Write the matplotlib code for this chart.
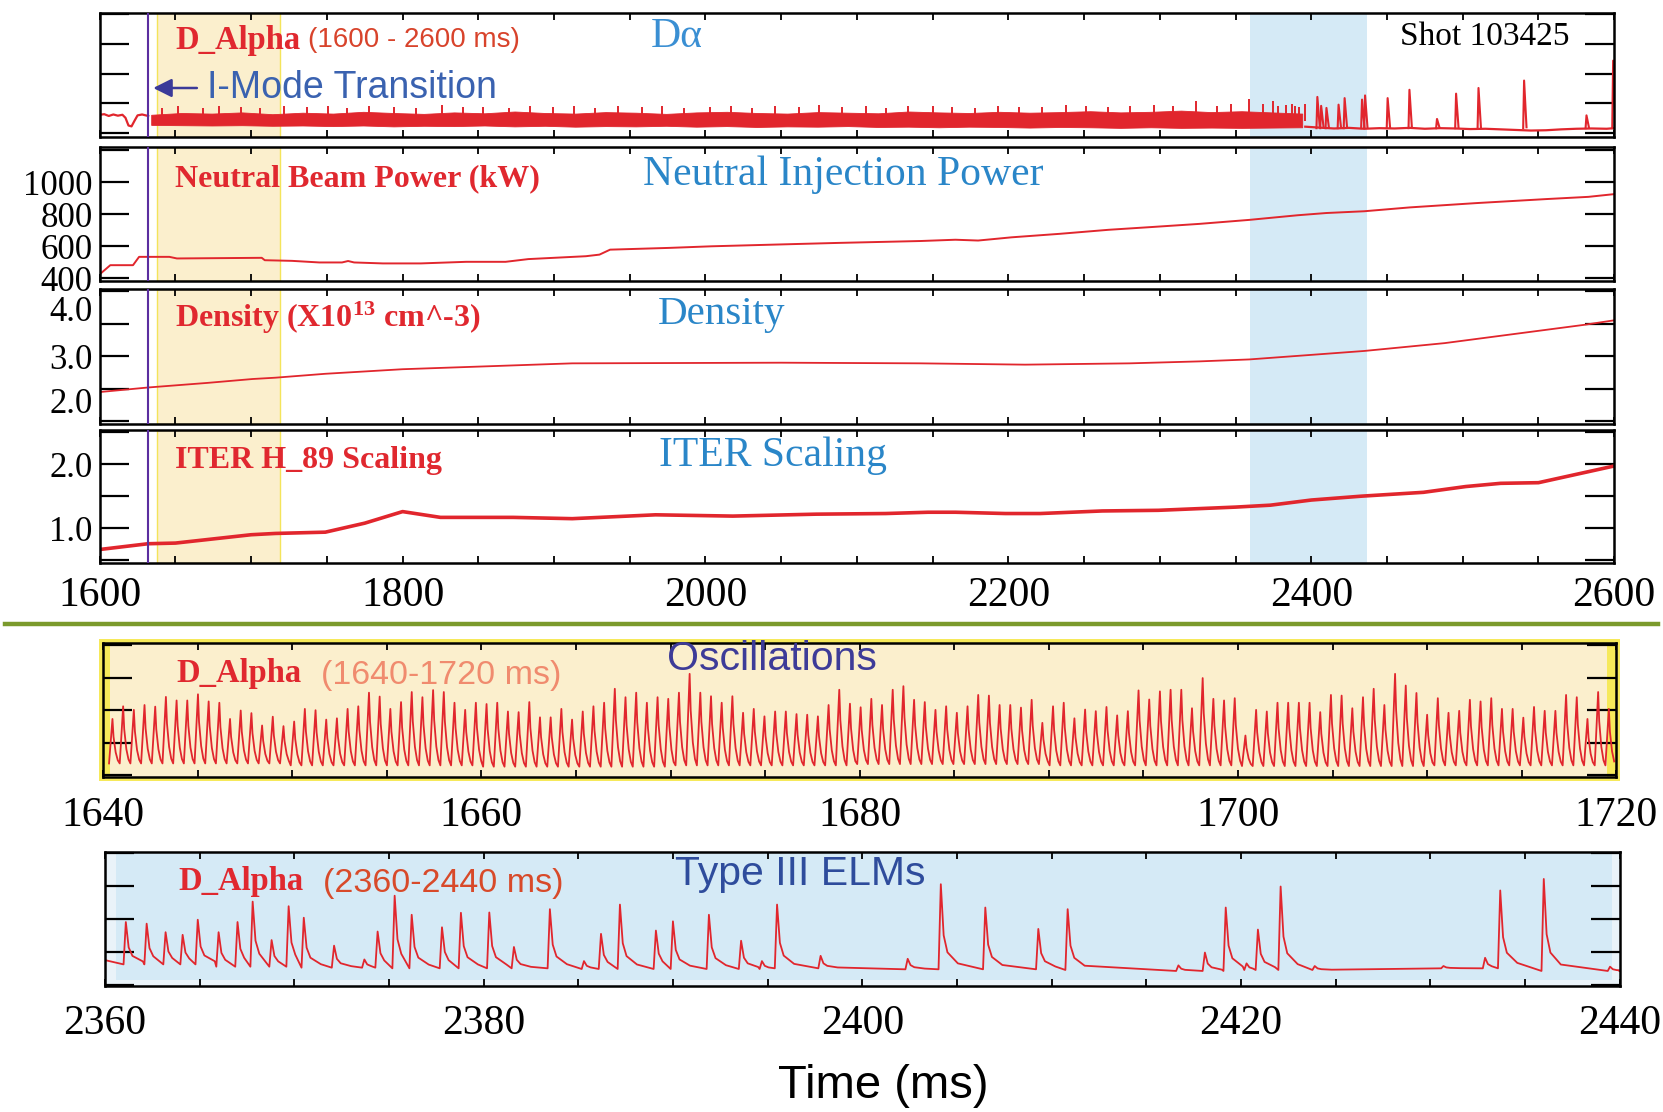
import matplotlib
matplotlib.use("Agg")
import matplotlib.pyplot as plt
import matplotlib.transforms as mtransforms
import numpy as np
from matplotlib.lines import Line2D
from matplotlib.patches import Rectangle
from matplotlib.ticker import MultipleLocator

SERIF = "Liberation Serif"
SANS = "Liberation Sans"
plt.rcParams["font.family"] = SERIF
plt.rcParams["mathtext.fontset"] = "custom"
plt.rcParams["mathtext.rm"] = SERIF
plt.rcParams["mathtext.bf"] = SERIF + ":bold"
plt.rcParams["mathtext.it"] = SERIF + ":italic"

# ── Data ──────────────────────────────────────────────────────────────────────

TRANSITION_MS = 1632
OSC_SPAN = (1638, 1719)
ELM_SPAN = (2359.5, 2436.5)

# D-alpha overview, before the I-mode transition
da_pre_t = [1600, 1603, 1606, 1609, 1612, 1615, 1617, 1619, 1621, 1623, 1625, 1628, 1632]
da_pre_v = [0.62, 0.64, 0.58, 0.63, 0.59, 0.62, 0.52, 0.26, 0.23, 0.42, 0.60, 0.63, 0.58]

# dense fluctuation band during I-mode (every 20 ms)
da_band_t = list(range(1634, 2395, 20))
da_band_top = [0.62, 0.68, 0.66, 0.70, 0.64, 0.69, 0.66, 0.72, 0.68, 0.65,
               0.70, 0.67, 0.73, 0.68, 0.66, 0.71, 0.69, 0.65, 0.70, 0.72,
               0.68, 0.66, 0.71, 0.69, 0.67, 0.73, 0.70, 0.68, 0.72, 0.69,
               0.71, 0.74, 0.70, 0.72, 0.76, 0.71, 0.74, 0.70, 0.66]
da_band_bot = [0.28, 0.27, 0.26, 0.27, 0.25, 0.26, 0.24, 0.26, 0.23, 0.25,
               0.24, 0.26, 0.23, 0.25, 0.22, 0.24, 0.23, 0.25, 0.22, 0.24,
               0.21, 0.23, 0.22, 0.24, 0.21, 0.22, 0.20, 0.22, 0.21, 0.19,
               0.21, 0.20, 0.18, 0.20, 0.18, 0.19, 0.18, 0.19, 0.20]
da_spike_t = [1641, 1652, 1668, 1679, 1693, 1706, 1722, 1737, 1751, 1763,
              1778, 1794, 1809, 1826, 1840, 1853, 1870, 1884, 1899, 1913,
              1927, 1942, 1958, 1971, 1986, 2003, 2017, 2031, 2046, 2062,
              2075, 2090, 2106, 2119, 2134, 2150, 2163, 2178, 2193, 2207,
              2222, 2238, 2251, 2266, 2280, 2296, 2309, 2324, 2338, 2347,
              2359, 2368, 2375, 2378, 2383, 2387, 2389, 2392, 2396]
da_spike_v = [0.86, 0.90, 0.84, 0.92, 0.88, 0.85, 0.93, 0.87, 0.90, 0.84,
              0.91, 0.88, 0.86, 0.94, 0.87, 0.89, 0.85, 0.92, 0.88, 0.90,
              0.86, 0.93, 0.87, 0.91, 0.85, 0.89, 0.92, 0.86, 0.90, 0.88,
              0.94, 0.87, 0.91, 0.85, 0.90, 0.93, 0.88, 0.86, 0.92, 0.89,
              0.87, 0.94, 0.90, 0.88, 0.92, 0.95, 0.90, 1.07, 0.93, 0.97,
              1.15, 0.99, 1.07, 0.90, 0.96, 0.97, 0.93, 0.88, 0.98]

# D-alpha after the band: quiet baseline with isolated ELMs
da_post_t = [2396, 2405, 2415, 2425, 2435, 2445, 2455, 2465, 2475, 2485, 2495,
             2505, 2515, 2525, 2535, 2545, 2555, 2565, 2575, 2585, 2595, 2600]
da_post_v = [0.22, 0.19, 0.16, 0.18, 0.15, 0.17, 0.16, 0.18, 0.15, 0.17, 0.16,
             0.14, 0.15, 0.13, 0.11, 0.09, 0.10, 0.13, 0.15, 0.16, 0.15, 0.17]
da_elm_t = [2404, 2406.5, 2410, 2418, 2422, 2433.5, 2435.5, 2450.4, 2464.8,
            2483, 2495.6, 2510.4, 2540.5, 2581.7, 2599.3]
da_elm_v = [1.22, 0.92, 0.85, 0.96, 1.18, 1.13, 1.27, 1.18, 1.46,
            0.48, 1.33, 1.52, 1.77, 0.60, 2.44]

# Neutral beam power (kW)
nb_t = [1600, 1607, 1622, 1626, 1646, 1651, 1707, 1709, 1727, 1745,
        1760, 1764, 1768, 1787, 1812, 1842, 1868, 1883, 1921, 1930,
        1937, 1976, 2004, 2059, 2087, 2142, 2165, 2180, 2190, 2202,
        2234, 2266, 2294, 2326, 2359, 2391, 2410, 2435, 2465, 2509,
        2555, 2583, 2600]
nb_kw = [425, 482, 482, 534, 534, 524, 528, 513, 509, 499,
         499, 508, 499, 493, 493, 503, 503, 520, 538, 548,
         579, 590, 600, 614, 621, 633, 641, 636, 645, 656,
         678, 703, 720, 740, 765, 794, 808, 819, 843, 870,
         895, 909, 926]

# Density (1e13 cm^-3)
ne_t = [1600, 1632, 1671, 1701, 1716, 1749, 1800, 1850, 1912, 2050, 2142,
        2211, 2280, 2326, 2359, 2400, 2435, 2488, 2534, 2580, 2600]
ne_v = [2.45, 2.52, 2.59, 2.65, 2.67, 2.73, 2.80, 2.84, 2.89, 2.90, 2.89,
        2.87, 2.89, 2.92, 2.95, 3.02, 3.08, 3.20, 3.34, 3.48, 3.55]

# ITER H_89 scaling
h89_t = [1600, 1632, 1650, 1700, 1716, 1749, 1775, 1800, 1825, 1873,
         1912, 1967, 2018, 2073, 2119, 2147, 2165, 2198, 2221, 2262,
         2299, 2350, 2373, 2400, 2433, 2474, 2502, 2525, 2550, 2600]
h89_v = [0.67, 0.76, 0.77, 0.90, 0.92, 0.94, 1.08, 1.26, 1.17, 1.17,
         1.15, 1.21, 1.19, 1.22, 1.23, 1.25, 1.25, 1.23, 1.23, 1.27,
         1.28, 1.33, 1.36, 1.44, 1.50, 1.56, 1.65, 1.70, 1.71, 1.97]

# Oscillations 1640-1720 ms: peak heights, one per cycle
osc_first, osc_last = 1640.5, 1719.6
osc_peaks = [1.73, 2.12, 2.01, 2.16, 2.11, 2.41, 2.30, 2.30, 2.49, 2.27,
             2.23, 1.73, 1.99, 1.91, 1.53, 1.80, 1.51, 1.65, 2.04, 2.00,
             1.71, 1.75, 2.04, 2.12, 2.54, 2.42, 2.04, 2.25, 2.56, 2.40,
             2.62, 2.56, 2.23, 2.01, 2.23, 2.19, 2.23, 1.96, 1.94, 2.25,
             1.78, 1.78, 2.04, 1.71, 1.96, 2.12, 2.23, 2.66, 2.40, 2.54,
             2.23, 2.40, 2.35, 2.54, 3.12, 2.54, 2.43, 2.23, 2.43, 1.92,
             2.04, 1.81, 1.96, 1.96, 1.88,
             1.86, 1.81, 2.16, 2.63, 2.20, 2.09, 2.35, 2.16, 2.63, 2.74,
             2.32, 2.25, 2.01, 2.12, 1.92, 2.12, 2.47, 2.45, 2.16, 2.16,
             2.08, 2.32, 1.61, 2.12, 2.23, 1.75, 2.02, 1.97, 2.10, 1.84,
             1.97, 2.61, 2.33, 2.58, 2.63, 2.63, 2.06, 2.99, 2.35, 2.30,
             2.37, 1.22, 2.01, 1.96, 2.23, 2.23, 2.23, 2.23, 1.94, 2.47,
             2.45, 2.06, 2.40, 2.66, 2.16, 3.12, 2.76, 2.53, 1.86, 2.37,
             1.92, 1.98, 2.32, 2.27, 2.37, 2.04, 2.04, 1.77, 2.10, 1.98,
             1.98, 2.47, 2.40, 1.73, 2.56, 2.04]
osc_trough = [0.36, 0.30, 0.26, 0.30, 0.34, 0.30, 0.28, 0.30]   # per 10 ms

# Type III ELMs 2360-2440 ms
elm_t = [2361.1, 2362.2, 2363.2, 2364.1, 2364.9, 2366.0, 2367.0, 2367.8, 2368.8, 2369.7,
         2370.5, 2372.1, 2373.7, 2374.4, 2375.3, 2376.2, 2377.8, 2378.8, 2380.3, 2381.6,
         2383.5, 2385.3, 2386.2, 2387.2, 2389.1, 2390.0, 2391.9, 2393.6, 2394.7, 2395.5,
         2397.8, 2402.4, 2404.15, 2406.5, 2409.3, 2410.85, 2416.7, 2418.1, 2419.2, 2420.3,
         2420.9, 2422.1, 2423.9, 2430.7, 2432.9, 2433.7, 2436.0, 2439.5]
elm_v = [1.91, 1.86, 1.60, 1.52, 1.98, 1.60, 1.91, 2.53, 1.36, 2.39,
         2.04, 1.19, 0.77, 1.62, 2.71, 2.13, 1.75, 2.19, 2.20, 1.15,
         2.30, 0.72, 1.55, 2.44, 1.65, 1.93, 2.13, 1.34, 0.72, 2.44,
         0.88, 0.79, 3.06, 2.35, 1.70, 2.30, 0.59, 0.98, 2.35, 0.65,
         1.68, 2.99, 0.57, 0.57, 0.82, 2.87, 3.22, 0.55]
elm_base = [0.62, 0.55, 0.52, 0.50, 0.50, 0.48, 0.48, 0.50,
            0.47, 0.47, 0.45, 0.42, 0.45, 0.52, 0.50, 0.42]     # per 5 ms

# ── Colours ───────────────────────────────────────────────────────────────────

RED = "#e1262d"
RED_TXT = "#e0282f"
BLUE_TXT = "#2a86c8"
PURPLE = "#5b2e9f"
YELLOW = "#fbefcd"
YELLOW_EDGE = "#f4e45a"
LIGHT_BLUE = "#d5eaf6"


# ── Helpers ───────────────────────────────────────────────────────────────────

def pulse_train(times, peaks, base, seg, t0, rise, tail):
    """Polyline of sharp pulses: fast rise, decaying tail, stepwise baseline."""
    pts_t, pts_v = [], []
    for i, (t, p) in enumerate(zip(times, peaks)):
        b = base[min(int((t - t0) // seg), len(base) - 1)]
        nxt = times[i + 1] - rise if i + 1 < len(times) else np.inf
        pts_t += [t - rise, t]
        pts_v += [b, p]
        for dt, frac in tail:
            if t + dt < nxt:
                pts_t.append(t + dt)
                pts_v.append(b + frac * (p - b))
    return pts_t, pts_v


W, H = 1663, 1112
fig = plt.figure(figsize=(W / 100, H / 100), dpi=100)


def add_axes_px(x0, y0, x1, y1):
    return fig.add_axes([x0 / W, 1 - y1 / H, (x1 - x0) / W, (y1 - y0) / H])


def frame(ax, xmajor, xminor, yticks, ylabels, xlabels=False, xpad=10):
    for s in ax.spines.values():
        s.set_linewidth(1.8)
    ax.set_yticks(yticks)
    ax.set_yticklabels(ylabels)
    ax.xaxis.set_major_locator(MultipleLocator(xmajor))
    ax.xaxis.set_minor_locator(MultipleLocator(xminor))
    ax.ticklabel_format(axis="x", useOffset=False)
    ax.tick_params(axis="y", direction="in", length=21, width=1.6,
                   left=True, right=True, labelsize=25, pad=5)
    ax.tick_params(axis="x", which="both", direction="in", length=5, width=1.3,
                   top=True, bottom=True, labelsize=30, pad=xpad,
                   labelbottom=xlabels)


def nudge(label, dy_px):
    label.set_transform(label.get_transform()
                        + mtransforms.ScaledTranslation(0, dy_px / 100, fig.dpi_scale_trans))


def shade(ax):
    ax.axvspan(*OSC_SPAN, facecolor=YELLOW, edgecolor=YELLOW_EDGE, lw=1.0, zorder=0)
    ax.axvspan(*ELM_SPAN, facecolor=LIGHT_BLUE, lw=0, zorder=0)
    ax.axvline(TRANSITION_MS, color=PURPLE, lw=1.5, zorder=3)


# ── Panel 1: D-alpha overview ────────────────────────────────────────────────

ax1 = add_axes_px(99.7, 12.7, 1614.2, 136.8)
shade(ax1)
ax1.plot(da_pre_t, da_pre_v, color=RED, lw=1.6)
ax1.fill_between(da_band_t, da_band_bot, da_band_top, color=RED, lw=0.6)
ax1.vlines(da_spike_t, 0.4, da_spike_v, color=RED, lw=1.4)
ax1.plot(da_post_t, da_post_v, color=RED, lw=1.6)
for t, v in zip(da_elm_t, da_elm_v):
    ax1.plot([t - 0.6, t, t + 1.6], [0.17, v, 0.2], color=RED, lw=1.5)
ax1.set_xlim(1600, 2600)
ax1.set_ylim(-0.12, 4.05)
frame(ax1, 200, 50, [0, 1, 2, 3, 4], [""] * 5)

ax1.text(1649.7, 3.13, "D_Alpha", color=RED_TXT, fontsize=23.5, fontweight="bold", va="center")
ax1.text(1737.3, 3.13, "(1600 - 2600 ms)", family=SANS, fontsize=20, color="#d8432b", va="center")
ax1.text(1964, 3.23, "Dα", color="#3a8fd3", fontsize=30, va="center")
ax1.text(1670.7, 1.52, "I-Mode Transition", family=SANS, fontsize=27, color="#3a62b0", va="center")
ax1.annotate("", xy=(TRANSITION_MS + 1.5, 1.52), xytext=(1666, 1.52),
             arrowprops=dict(arrowstyle="-|>", color="#3b3a99", lw=1.8, mutation_scale=28))
ax1.text(2570.6, 3.23, "Shot 103425", fontsize=24, ha="right", va="center")

# ── Panel 2: neutral beam power ──────────────────────────────────────────────

ax2 = add_axes_px(99.7, 147.4, 1614.2, 281.5)
shade(ax2)
ax2.plot(nb_t, nb_kw, color=RED, lw=1.4)
ax2.set_xlim(1600, 2600)
ax2.set_ylim(380, 1218)
frame(ax2, 200, 50, [400, 600, 800, 1000, 1200], ["400", "600", "800", "1000", ""])
ax2.text(1649.7, 1020, "Neutral Beam Power (kW)", color=RED_TXT, fontsize=23,
         fontweight="bold", va="center")
ax2.text(1958.5, 1046, "Neutral Injection Power", color=BLUE_TXT, fontsize=30, va="center")

# ── Panel 3: density ─────────────────────────────────────────────────────────

ax3 = add_axes_px(99.7, 289.0, 1614.2, 424.0)
shade(ax3)
ax3.plot(ne_t, ne_v, color=RED, lw=1.3)
ax3.set_xlim(1600, 2600)
ax3.set_ylim(1.96, 4.03)
frame(ax3, 200, 50, [2.0, 2.5, 3.0, 3.5, 4.0], ["2.0", "", "3.0", "", "4.0"])
lbl = ax3.get_yticklabels()
lbl[0].set_va("bottom")
lbl[4].set_va("top")
nudge(lbl[4], -5)
ax3.text(1649.7, 3.59, r"Density (X10$^{\mathbf{13}}$ cm^-3)", color=RED_TXT, fontsize=23,
         fontweight="bold", va="center")
ax3.text(1968.4, 3.64, "Density", color=BLUE_TXT, fontsize=29.5, va="center")

# ── Panel 4: ITER scaling ────────────────────────────────────────────────────

ax4 = add_axes_px(99.7, 430.0, 1614.2, 563.0)
shade(ax4)
ax4.plot(h89_t, h89_v, color=RED, lw=2.6)
ax4.set_xlim(1600, 2600)
ax4.set_ylim(0.46, 2.53)
frame(ax4, 200, 50, [0.5, 1.0, 1.5, 2.0, 2.5], ["", "1.0", "", "2.0", ""],
      xlabels=True, xpad=10)
ax4.text(1649.7, 2.06, "ITER H_89 Scaling", color=RED_TXT, fontsize=23,
         fontweight="bold", va="center")
ax4.text(1969, 2.13, "ITER Scaling", color=BLUE_TXT, fontsize=30, va="center")

# separator
fig.add_artist(Line2D([0.0032, 0.9968], [1 - 623.6 / H] * 2, color="#7b9a2c", lw=3.2))

# ── Panel 5: oscillations ────────────────────────────────────────────────────

fig.add_artist(Rectangle(((103 - 4) / W, 1 - (777.4 + 4) / H), (1513.4 + 8) / W,
                         (134.7 + 8) / H, transform=fig.transFigure,
                         facecolor="#f6e95a", lw=0, zorder=-1))
ax5 = add_axes_px(103.0, 642.7, 1616.4, 777.4)
ax5.set_facecolor(YELLOW)
ax5.axvspan(1640, 1640.35, color="#f6e95a", lw=0)
ax5.axvspan(1719.5, 1720, color="#f6e95a", lw=0)
osc_t = np.linspace(osc_first, osc_last, len(osc_peaks))
period = osc_t[1] - osc_t[0]
ot, ov = pulse_train(list(osc_t), osc_peaks, osc_trough, 10, 1640, 0.32 * period,
                     [(0.1 * period, 0.6), (0.3 * period, 0.25), (0.5 * period, 0.07)])
ax5.plot(ot, ov, color=RED, lw=1.3)
ax5.set_xlim(1640, 1720)
ax5.set_ylim(-0.07, 4.08)
frame(ax5, 20, 5, [0, 1, 2, 3, 4], [""] * 5, xlabels=True, xpad=14)
ax5.text(1643.9, 3.14, "D_Alpha", color=RED_TXT, fontsize=23.5, fontweight="bold", va="center")
ax5.text(1651.5, 3.07, "(1640-1720 ms)", family=SANS, fontsize=24.5, color="#f08b6e", va="center")
ax5.text(1669.8, 3.57, "Oscillations", family=SANS, fontsize=29.5, color="#3d3b98", va="center")

# ── Panel 6: Type III ELMs ───────────────────────────────────────────────────

ax6 = add_axes_px(105.0, 851.7, 1619.5, 986.4)
ax6.set_facecolor("#eaf3f9")
ax6.add_patch(Rectangle((2360.6, 0.15), 79.0, 4.2, facecolor=LIGHT_BLUE, lw=0, zorder=0))
et, ev = pulse_train(elm_t, elm_v, elm_base, 5, 2360, 0.12,
                     [(0.15, 0.4), (0.35, 0.2), (0.9, 0.07)])
ax6.plot([2360] + et + [2440], [0.75] + ev + [elm_base[-1]], color=RED, lw=1.3)
ax6.set_xlim(2360, 2440)
ax6.set_ylim(-0.05, 4.05)
frame(ax6, 20, 5, [0, 1, 2, 3, 4], [""] * 5, xlabels=True, xpad=13)
ax6.text(2363.9, 3.14, "D_Alpha", color=RED_TXT, fontsize=23.5, fontweight="bold", va="center")
ax6.text(2371.5, 3.08, "(2360-2440 ms)", family=SANS, fontsize=24.5, color="#d84a2a", va="center")
ax6.text(2390.1, 3.37, "Type III ELMs", family=SANS, fontsize=29.5, color="#2e4c9c", va="center")

fig.text(0.5313, 0.0235, "Time (ms)", family=SANS, fontsize=34, ha="center", va="center")

fig.savefig("out.png", dpi=100)
